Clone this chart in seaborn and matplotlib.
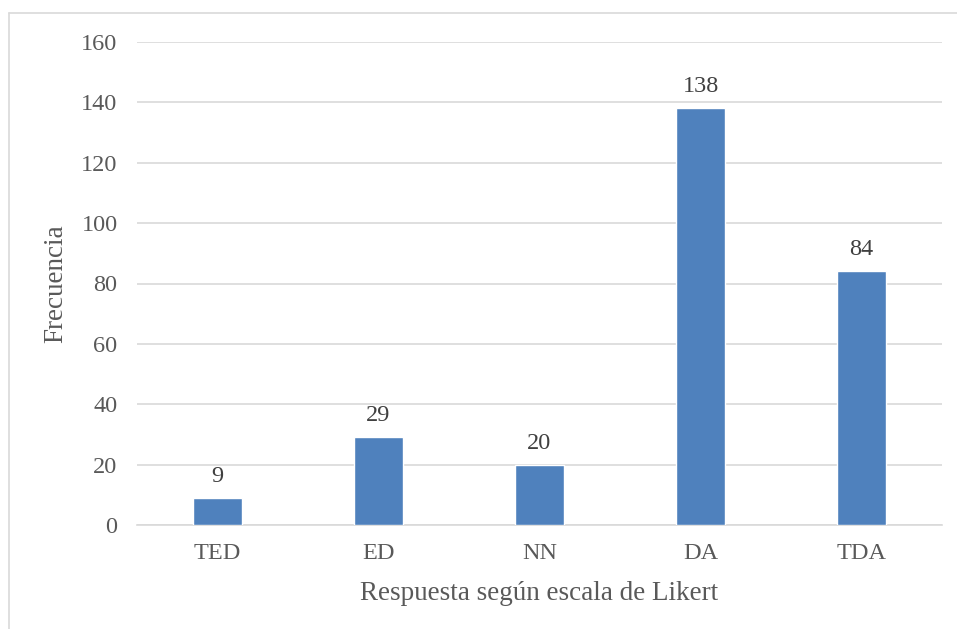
import matplotlib
matplotlib.use("Agg")
import matplotlib.pyplot as plt
import seaborn as sns
import pandas as pd
from matplotlib.lines import Line2D

categorias = ["TED", "ED", "NN", "DA", "TDA"]
frecuencias = [9, 29, 20, 138, 84]
y_ticks = [0, 20, 40, 60, 80, 100, 120, 140, 160]

df = pd.DataFrame({"Respuesta": categorias, "Frecuencia": frecuencias})

sns.set_theme(style="white")
plt.rcParams["font.family"] = ["Liberation Serif", "DejaVu Serif"]

texto = "#595959"
rejilla = "#D9D9D9"
barra = "#4F81BD"

fig = plt.figure(figsize=(9.57, 6.29), dpi=100)
ax = fig.add_axes([137 / 957, 1 - 525 / 629, (942 - 137) / 957, (525 - 42) / 629])

sns.barplot(data=df, x="Respuesta", y="Frecuencia", color=barra, width=0.31,
            saturation=1, ax=ax, zorder=3)

ax.set_xlim(-0.5, len(categorias) - 0.5)
ax.set_ylim(0, 160)
ax.set_yticks(y_ticks)
ax.set_yticklabels([str(t) for t in y_ticks])
ax.yaxis.grid(True, color=rejilla, linewidth=1.2, zorder=0)
ax.set_axisbelow(True)
for s in ["top", "right", "left"]:
    ax.spines[s].set_visible(False)
ax.spines["bottom"].set_color(rejilla)
ax.spines["bottom"].set_linewidth(1.2)
ax.tick_params(axis="both", length=0, labelsize=17.5, colors=texto)
ax.tick_params(axis="y", pad=14)
ax.tick_params(axis="x", pad=13)

for p, v in zip(ax.patches, frecuencias):
    ax.annotate(str(v), (p.get_x() + p.get_width() / 2, v), xytext=(0, 8),
                textcoords="offset points", ha="center", va="bottom",
                fontsize=17.5, color="#404040")

ax.set_xlabel("Respuesta según escala de Likert", fontsize=19.5, color=texto, labelpad=12)
ax.set_ylabel("Frecuencia", fontsize=19.5, color=texto, labelpad=9)

# thin frame around the chart area
fig.add_artist(Line2D([9 / 957, 1], [1 - 13 / 629] * 2, color="#D9D9D9", lw=1.2,
                      transform=fig.transFigure))
fig.add_artist(Line2D([9 / 957] * 2, [0, 1 - 13 / 629], color="#D9D9D9", lw=1.2,
                      transform=fig.transFigure))

fig.savefig("out.png", dpi=100)
